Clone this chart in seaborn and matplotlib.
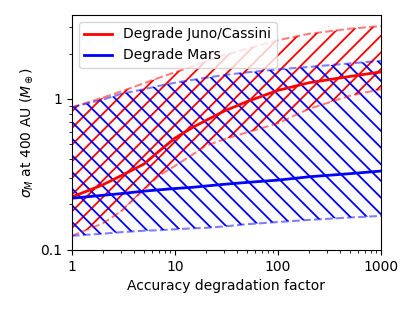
import matplotlib
matplotlib.use("Agg")
import matplotlib.pyplot as plt
import matplotlib.ticker as mticker
import numpy as np
import pandas as pd
import seaborn as sns

# degradation factor grid
factor = [1, 2, 3, 5, 7, 10, 15, 20, 30, 50, 100, 200, 500, 1000]

# Juno/Cassini degraded
juno_med = [0.224, 0.27, 0.31, 0.37, 0.45, 0.55, 0.65, 0.72, 0.83, 0.96, 1.14, 1.28, 1.41, 1.51]
juno_hi = [0.88, 1.02, 1.12, 1.27, 1.38, 1.50, 1.65, 1.78, 1.95, 2.15, 2.45, 2.70, 2.92, 3.04]
juno_lo = [0.124, 0.15, 0.18, 0.25, 0.31, 0.36, 0.43, 0.49, 0.54, 0.60, 0.69, 0.86, 1.05, 1.16]

# Mars degraded
mars_med = [0.22, 0.23, 0.236, 0.245, 0.25, 0.255, 0.26, 0.265, 0.272, 0.28, 0.29, 0.305, 0.32, 0.333]
mars_hi = [0.88, 0.99, 1.08, 1.16, 1.22, 1.28, 1.34, 1.38, 1.44, 1.50, 1.57, 1.63, 1.72, 1.79]
mars_lo = [0.124, 0.128, 0.131, 0.134, 0.135, 0.137, 0.139, 0.14, 0.143, 0.148, 0.153, 0.158, 0.164, 0.168]

labels = ["Degrade Juno/Cassini", "Degrade Mars"]
colors = ["red", "blue"]

plt.rcParams["hatch.linewidth"] = 1.3
fig, ax = plt.subplots(figsize=(4.15, 3.12), dpi=100)
fig.subplots_adjust(left=0.173, right=0.918, top=0.952, bottom=0.199)

x = np.array(factor)
bands = [(juno_lo, juno_hi, "//"), (mars_lo, mars_hi, "\\\\")]
for (lo, hi, hatch), c in zip(bands, colors):
    ax.fill_between(x, lo, hi, facecolor="none", edgecolor=c, hatch=hatch, linewidth=0)
    ax.plot(x, hi, "--", color=c, alpha=0.5, lw=1.5)
    ax.plot(x, lo, "--", color=c, alpha=0.5, lw=1.5)

df = pd.concat([
    pd.DataFrame({"factor": factor, "sigma": juno_med, "case": labels[0]}),
    pd.DataFrame({"factor": factor, "sigma": mars_med, "case": labels[1]}),
])
sns.lineplot(data=df, x="factor", y="sigma", hue="case", palette=colors, lw=2, ax=ax)

ax.set_xscale("log")
ax.set_yscale("log")
ax.set_xlim(1, 1000)
ax.set_ylim(0.1, 3.6)
ax.xaxis.set_major_formatter(mticker.FuncFormatter(lambda v, p: f"{v:g}"))
ax.yaxis.set_major_formatter(mticker.FuncFormatter(lambda v, p: f"{v:g}"))
ax.yaxis.set_minor_formatter(mticker.NullFormatter())
ax.set_xlabel("Accuracy degradation factor")
ax.set_ylabel(r"$\sigma_M$ at 400 AU ($M_\oplus$)")
ax.legend(loc="upper left", title=None)

fig.savefig("out.png", dpi=100)
